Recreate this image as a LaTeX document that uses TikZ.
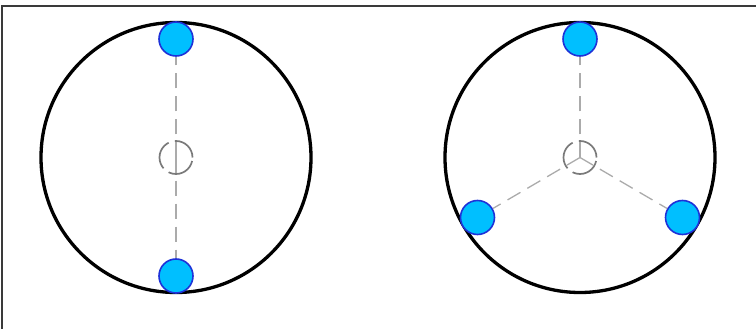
\documentclass[tikz,border=0pt]{standalone}
\definecolor{ballblue}{HTML}{00BFFF}
\definecolor{balledge}{HTML}{1E32D8}
\definecolor{spokegray}{HTML}{ABABAB}
\definecolor{hubgray}{HTML}{7A7A7A}
\definecolor{framegray}{HTML}{3A3A3A}
\begin{document}
\begin{tikzpicture}[x=1pt,y=-1pt,
  wheel/.style={circle,draw=black,line width=3.3pt,minimum size=270pt,inner sep=0pt},
  ball/.style={circle,fill=ballblue,draw=balledge,line width=1.6pt,minimum size=34pt,inner sep=0pt},
  spoke/.style={draw=spokegray,line width=1.3pt,dash pattern=on 15pt off 8pt},
  hub/.style={circle,draw=hubgray,line width=1.7pt,minimum size=33pt,inner sep=0pt,dash pattern=on 30pt off 6.5pt,dash phase=3pt},
  frameline/.style={draw=framegray,line width=2.2pt}]
\useasboundingbox (0,0) rectangle (756,329);
\coordinate (fa) at (2,329);
\coordinate (fb) at (2,6);
\coordinate (fc) at (756,6);
\draw[frameline] (fa) -- (fb) -- (fc);
% left wheel
\coordinate (cL) at (176,157.5);
\node[wheel] (wL) at (cL) {};
\node[hub] (hL) at (cL) {};
\node[ball] (bL1) at (176,39) {};
\node[ball] (bL2) at (176,276) {};
\draw[spoke] (cL) -- (bL1);
\draw[spoke] (cL) -- (bL2);
% right wheel
\coordinate (cR) at (580,157.5);
\node[wheel] (wR) at (cR) {};
\node[hub] (hR) at (cR) {};
\node[ball] (bR1) at (580,39) {};
\node[ball] (bR2) at (477.5,217.5) {};
\node[ball] (bR3) at (682.5,217.5) {};
\draw[spoke] (cR) -- (bR1);
\draw[spoke] (cR) -- (bR2);
\draw[spoke] (cR) -- (bR3);
\end{tikzpicture}
\end{document}
